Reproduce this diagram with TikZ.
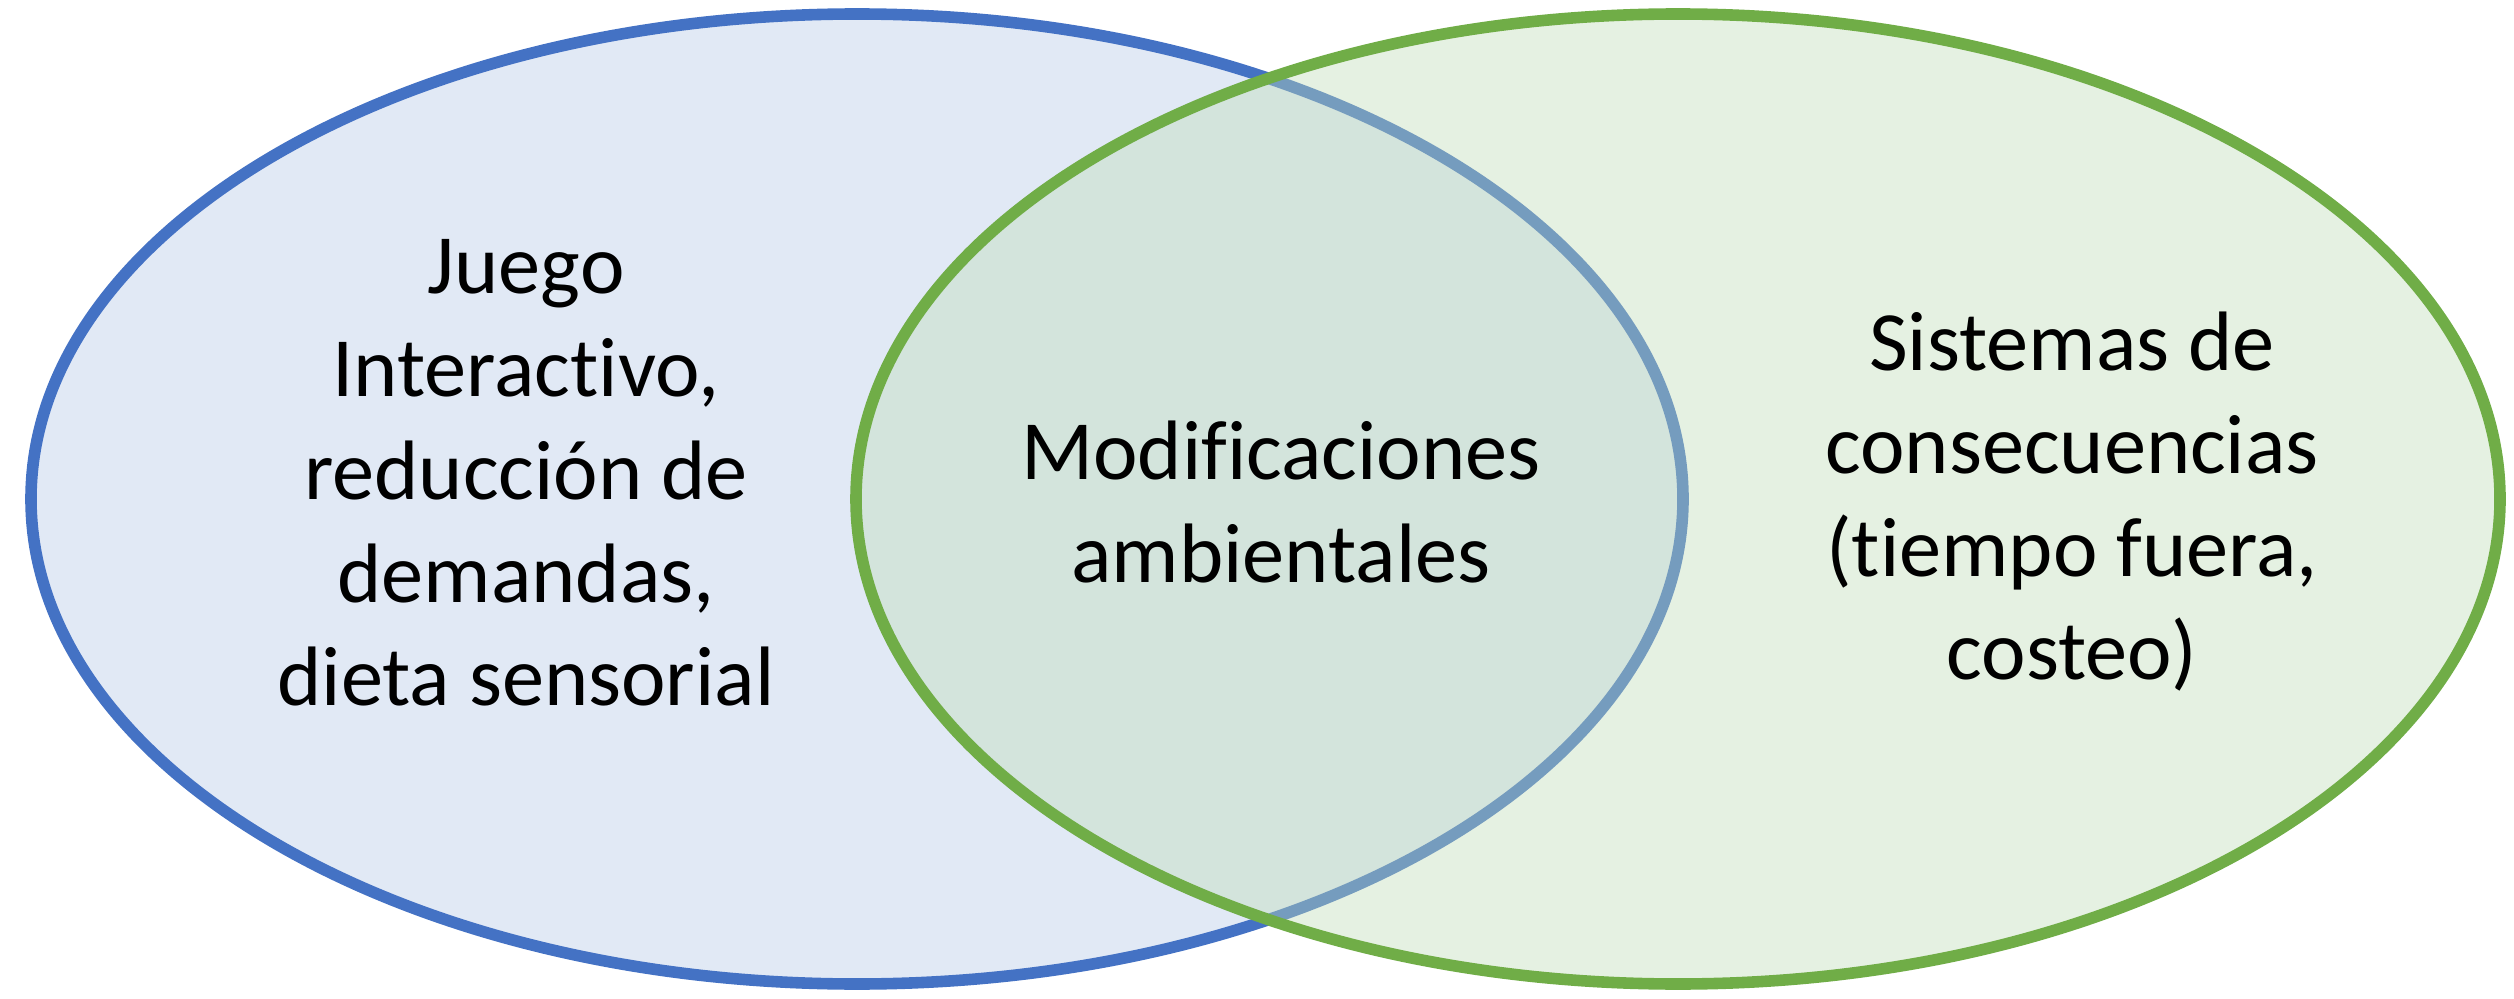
\documentclass[tikz,border=0pt]{standalone}
\usepackage{fontspec}
\setmainfont{Carlito}[Ligatures=NoCommon]
\definecolor{blueline}{HTML}{4472C4}
\definecolor{bluefill}{HTML}{B4C7E7}
\definecolor{greenline}{HTML}{70AD47}
\definecolor{greenfill}{HTML}{BFDCB6}

\begin{document}
\begin{tikzpicture}[
    ring/.style={line width=3.3pt, fill opacity=.4},
    label/.style={align=center, inner sep=0pt, font=\fontsize{24}{29.3}\selectfont}]
      \useasboundingbox (0,0) rectangle (25.14,9.98);

      % left set, then right set on top
      \draw[ring, draw=blueline, fill=bluefill] (8.57,4.99) ellipse (8.26 and 4.85);
      \draw[ring, draw=greenline, fill=greenfill] (16.78,4.99) ellipse (8.22 and 4.85);

      \node[label] (juego) at (5.26,5.25) {Juego\\Interactivo,\\reducción de\\demandas,\\dieta sensorial};
      \node[label] (modif) at (12.81,4.96) {Modificaciones\\ambientales};
      \node[label] (sist) at (20.72,4.96) {Sistemas de\\consecuencias\\(tiempo fuera,\\costeo)};
    \end{tikzpicture}
\end{document}
